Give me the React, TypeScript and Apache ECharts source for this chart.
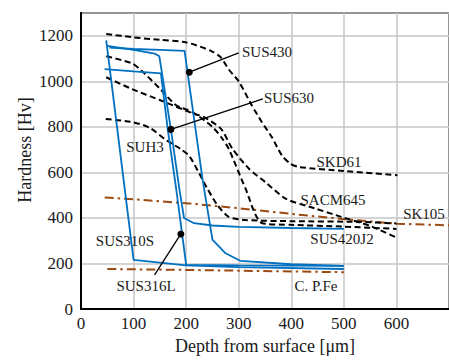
import React, { useEffect, useRef } from "react";
import * as echarts from "echarts";

// ---- data (x: depth μm, y: hardness Hv) ----
const sus310S = [[48, 1180], [100, 216], [200, 192], [300, 184], [500, 176]];
const sus316L = [[45, 1054], [100, 1044], [152, 1035], [165, 789], [181, 529], [200, 194], [300, 192], [500, 190]];
const sus430 = [[54, 1148], [100, 1142], [150, 1138], [197, 1134], [231, 573], [250, 305], [275, 245], [303, 212], [400, 197], [500, 190]];
const sus630 = [[50, 1156], [100, 1138], [140, 1122], [149, 1110], [171, 789], [187, 529], [196, 400], [215, 377], [250, 367], [300, 361], [400, 356], [500, 352]];

const skd61 = [[48, 1208], [100, 1193], [150, 1182], [200, 1171], [247, 1134], [266, 1105], [281, 1052], [300, 1000], [325, 894], [344, 821], [363, 755], [382, 675], [398, 639], [414, 624], [500, 606], [602, 588]];
const suh3 = [[47, 835], [100, 820], [130, 797], [162, 742], [190, 702], [206, 672], [225, 595], [240, 530], [260, 455], [281, 405], [313, 391], [400, 386], [530, 383], [600, 376]];
const sacm645 = [[48, 1018], [96, 967], [152, 916], [215, 857], [234, 843], [266, 792], [288, 704], [320, 615], [351, 557], [390, 484], [445, 442], [495, 405], [550, 365], [600, 314]];
const sus420J2 = [[48, 1110], [96, 1080], [115, 1047], [150, 968], [181, 895], [212, 865], [250, 800], [269, 748], [281, 704], [313, 529], [344, 378], [400, 370], [500, 362], [600, 352]];

const sk105 = [[45, 490], [100, 482], [206, 464], [300, 443], [400, 418], [500, 395], [600, 375], [700, 368]];
const cpFe = [[50, 176], [200, 172], [500, 162]];

// pointer lines: [dot, end]
const ptrSUS430 = [[206, 1040], [300, 1125]];
const ptrSUS630 = [[171, 789], [346, 923]];
const ptrSUS316L = [[190, 330], [140, 150]];

const labelTexts = ["SUS430", "SUS630", "SKD61", "SUH3", "SACM645", "SK105", "SUS420J2", "SUS310S", "SUS316L", "C. P.Fe"];

export default function App() {
  const ref = useRef<HTMLDivElement>(null);
  useEffect(() => {
    const chart = echarts.init(ref.current!, null, { renderer: "svg" });
    const font = "'Liberation Serif', 'Times New Roman', serif";
    const blue = "#0070C0";
    const brown = "#9A4A12";
    const txt = "#1a1a1a";

    const blueS = (name: string, data: number[][]) => ({
      type: "line", name, data, showSymbol: false, symbol: "none", silent: true, z: 4,
      lineStyle: { color: blue, width: 1.8 },
    });
    const dashS = (name: string, data: number[][]) => ({
      type: "line", name, data, showSymbol: false, symbol: "none", silent: true, z: 3, smooth: 0.25,
      lineStyle: { color: "#000", width: 2, type: [6, 3.5] },
    });
    const brownS = (name: string, data: number[][]) => ({
      type: "line", name, data, showSymbol: false, symbol: "none", silent: true, z: 2,
      lineStyle: { color: brown, width: 2, type: [9, 4, 2.5, 4] },
    });
    const ptrS = (name: string, data: number[][]) => ({
      type: "line", name, silent: true, z: 6,
      data: [{ value: data[0], symbol: "circle", symbolSize: 7 }, { value: data[1], symbol: "none" }],
      showSymbol: true, symbol: "circle",
      itemStyle: { color: "#000" },
      lineStyle: { color: "#000", width: 1.3 },
    });

    const lbl = (text: string, x: number, y: number) => ({
      type: "text", x, y, silent: true, z: 10,
      style: { text, fill: txt, fontSize: 15, fontFamily: font, align: "center", verticalAlign: "middle" },
    });
    const pos: number[][] = [
      [267, 52], [289, 98], [339, 162], [145, 147], [333, 200],
      [424, 214], [342, 239], [125, 241], [146, 286], [316, 286],
    ];

    chart.setOption({
      animation: false,
      grid: { left: 81, top: 13, width: 371, height: 298, show: true, borderColor: "#000", borderWidth: 2, backgroundColor: "transparent" },
      xAxis: {
        type: "value", min: 0, max: 700, interval: 100,
        axisLine: { show: true, lineStyle: { color: "#000", width: 2 } },
        axisTick: { show: false },
        splitLine: { show: true, lineStyle: { color: "#c6c6c6", width: 1.5 } },
        axisLabel: { fontFamily: font, fontSize: 17, color: txt, margin: 6, showMaxLabel: false, formatter: (v: number) => String(v) },
        name: "Depth from surface [μm]", nameLocation: "middle", nameGap: 27,
        nameTextStyle: { fontFamily: font, fontSize: 18, color: txt },
      },
      yAxis: {
        type: "value", min: 0, max: 1300, interval: 200,
        axisLine: { show: true, lineStyle: { color: "#000", width: 2 } },
        axisTick: { show: false },
        splitLine: { show: true, lineStyle: { color: "#c6c6c6", width: 1.5 } },
        axisLabel: { fontFamily: font, fontSize: 17, color: txt, margin: 8, showMaxLabel: false, formatter: (v: number) => String(v) },
      },
      graphic: [
        {
          type: "text", x: 25, y: 150, rotation: Math.PI / 2, silent: true,
          style: { text: "Hardness [Hv]", fill: txt, fontSize: 18, fontFamily: font, align: "center", verticalAlign: "middle" },
        },
        ...labelTexts.map((t, i) => lbl(t, pos[i][0], pos[i][1])),
      ],
      series: [
        brownS("SK105", sk105),
        brownS("C.P.Fe", cpFe),
        dashS("SKD61", skd61),
        dashS("SUH3", suh3),
        dashS("SACM645", sacm645),
        dashS("SUS420J2", sus420J2),
        blueS("SUS310S", sus310S),
        blueS("SUS316L", sus316L),
        blueS("SUS430", sus430),
        blueS("SUS630", sus630),
        ptrS("ptrSUS430", ptrSUS430),
        ptrS("ptrSUS630", ptrSUS630),
        ptrS("ptrSUS316L", ptrSUS316L),
      ],
    });
    return () => chart.dispose();
  }, []);
  return <div ref={ref} style={{ position: "fixed", left: 0, top: 0, width: 449, height: 360, background: "#fff" }} />;
}
